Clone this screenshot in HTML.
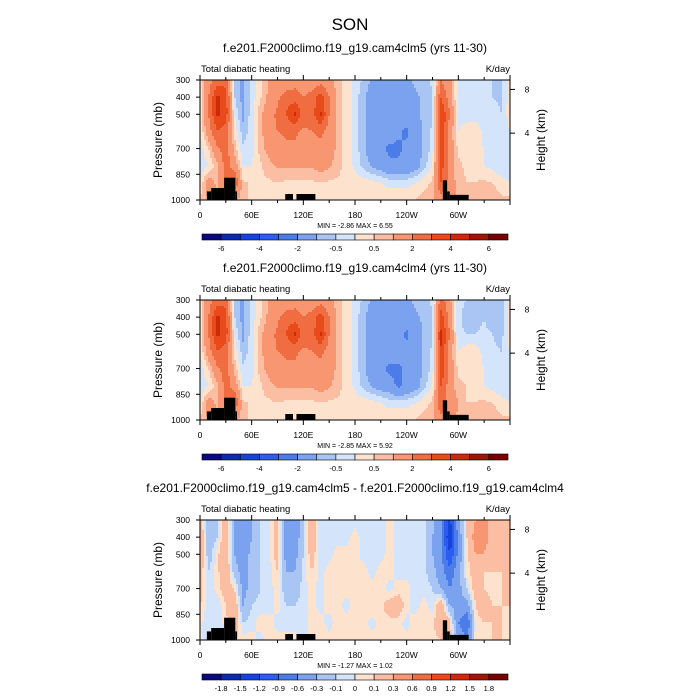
<!DOCTYPE html>
<html><head><meta charset="utf-8"><style>
body{margin:0;background:#fff;}
svg{display:block;font-family:"Liberation Sans",sans-serif;}
</style></head><body>
<svg id="fig" width="700" height="700" viewBox="0 0 700 700">
<text x="350" y="30" text-anchor="middle" font-size="17">SON</text>
</svg>
<script>
// ---- data ----
const lons = [0,10,20,30,40,50,60,70,80,90,100,110,120,130,140,150,160,170,180,190,200,210,220,230,240,250,260,270,280,290,300,310,320,330,340,350,360];
const levs = [300,400,500,600,700,800,900,1000];
const clm5 = [
[0.3,1.5,2.5,2.5,-0.5,-1.2,-0.3,0.3,1,1.2,1.2,1.5,1.2,1.2,1.5,1.2,0.7,0.3,-0.2,-0.6,-1.1,-1.3,-1.3,-1.3,-1.1,-0.9,-0.7,-0.4,2,1.2,-0.2,-0.3,-0.4,-0.3,-0.5,-0.6,0.3],
[0.3,2,4.2,3.5,-0.5,-1.2,-0.3,0.4,1.2,1.8,2.5,2.5,2,2.5,3.5,2,0.8,0.3,-0.2,-0.9,-1.4,-1.4,-1.4,-1.4,-1.4,-1.1,-0.9,-0.5,3,1.5,-0.2,-0.5,-0.5,-0.3,-0.5,-0.6,0.3],
[0.3,2,4.2,3.5,0,-1.2,-0.2,0.8,1.6,2.2,3,4.2,2.5,2.5,4.2,2,0.8,0.3,-0.2,-0.9,-1.4,-1.4,-1.4,-1.6,-1.4,-1.1,-0.9,-0.5,4,2,-0.2,-0.3,-0.3,-0.3,-0.3,-0.5,0.3],
[0,1.5,3,2.5,0.4,-0.8,-0.2,0.8,1.6,2,2.2,2.2,1.8,2,2.2,1.6,0.8,0.3,-0.2,-0.9,-1.4,-1.4,-1.4,-1.8,-2.2,-1.4,-0.9,-0.4,4,1.5,0,0.3,0.4,-0.2,-0.3,-0.5,0],
[-0.3,0.5,1.8,2.5,0.8,-0.4,-0.2,0.7,1.3,1.6,1.8,1.8,1.6,1.6,1.8,1.5,0.8,0.3,-0.2,-0.9,-1.4,-1.8,-2.2,-2.2,-1.8,-1.4,-0.9,-0.3,4,1.5,0.4,0.3,0.2,0,-0.2,-0.3,-0.3],
[-0.4,0,0.8,2.5,1.5,0,0,0.4,0.8,1.1,1.1,1.1,1.1,1.1,1.3,1.1,0.7,0.3,-0.1,-0.7,-1.1,-1.4,-1.8,-1.8,-1.8,-1.4,-0.7,0,3.5,1.5,0.6,0.4,0.3,0,-0.2,-0.5,-0.4],
[0,1.5,0.8,2.5,3,0.6,0.4,0.4,0.4,0.5,0.4,0.4,0.4,0.4,0.5,0.4,0.4,0.3,0.3,0.3,0.2,0,-0.2,-0.2,-0.2,0,0.3,0.6,3,1.5,0.7,0.5,0.5,0.6,0.5,0.3,0],
[0.6,1,1.5,2,1.2,0.6,0.4,0.3,0.3,0.3,0.3,0.3,0.3,0.3,0.3,0.3,0.3,0.3,0.4,0.5,0.5,0.5,0.4,0.4,0.4,0.5,0.7,0.9,1.5,1.2,0.9,0.8,0.8,0.8,0.7,0.6,0.6]];
const clm4 = [
[0.3,1.5,2.5,2.5,-0.5,-1.2,-0.3,0.3,1,1.2,1.2,1.5,1.2,1.2,1.5,1.2,0.7,0.3,-0.2,-0.6,-1.1,-1.3,-1.3,-1.3,-1.1,-0.9,-0.7,-0.4,2.5,1.2,-0.4,-0.5,-0.6,-0.5,-0.8,-0.9,0.3],
[0.3,2,4.2,3.5,-0.5,-1.2,-0.3,0.4,1.2,1.8,2.5,2.5,2,2.5,3.5,2,0.8,0.3,-0.2,-0.9,-1.4,-1.4,-1.4,-1.4,-1.4,-1.1,-0.9,-0.5,3.5,1.5,-0.4,-0.7,-0.7,-0.5,-0.8,-0.9,0.3],
[0.3,2,4.2,3.5,0,-1.2,-0.2,0.8,1.6,2.2,3,4.2,2.5,2.5,4.2,2,0.8,0.3,-0.2,-0.9,-1.4,-1.4,-1.4,-1.6,-2.2,-1.4,-0.9,-0.5,4.2,2,-0.4,-0.5,-0.5,-0.4,-0.5,-0.7,0.3],
[0,1.5,3,2.5,0.4,-0.8,-0.2,0.8,1.6,2,2.2,2.2,1.8,2,2.2,1.6,0.8,0.3,-0.2,-0.9,-1.4,-1.4,-1.4,-1.6,-1.6,-1.4,-0.9,-0.4,4,1.5,0,0.3,0.3,-0.2,-0.4,-0.5,0],
[-0.3,0.5,1.8,2.5,0.8,-0.4,-0.2,0.7,1.3,1.6,1.8,1.8,1.6,1.6,1.8,1.5,0.8,0.3,-0.2,-0.9,-1.4,-1.8,-2.2,-2.2,-1.8,-1.4,-0.9,-0.3,4,1.5,0.4,0.3,0.2,0,-0.2,-0.3,-0.3],
[-0.4,0,0.8,2.5,1.5,0,0,0.4,0.8,1.1,1.1,1.1,1.1,1.1,1.3,1.1,0.7,0.3,-0.1,-0.7,-1.1,-1.4,-1.6,-2.2,-1.8,-1.4,-0.7,0,3,1.5,0.6,0.5,0.4,0,-0.2,-0.5,-0.4],
[0,1.5,0.8,2.5,3,0.6,0.4,0.4,0.4,0.5,0.4,0.4,0.4,0.4,0.5,0.4,0.4,0.3,0.3,0.3,0.2,0,-0.2,-0.2,-0.2,0,0.3,0.6,3,1.5,1,0.5,0.5,0.6,0.5,0.3,0],
[0.6,1,1.5,2,1.2,0.6,0.4,0.3,0.3,0.3,0.3,0.3,0.3,0.3,0.3,0.3,0.3,0.3,0.4,0.5,0.5,0.5,0.4,0.4,0.4,0.5,0.7,0.9,1.5,1.2,0.9,0.8,0.8,0.8,0.7,0.6,0.6]];
const diff = [
[0.2,-0.2,-0.1,0.3,-0.3,-0.5,-0.3,-0.1,-0.05,0.2,-0.4,-0.5,-0.1,0.3,-0.1,-0.05,-0.05,-0.05,-0.05,-0.05,-0.05,-0.05,0.05,-0.05,-0.05,-0.05,-0.05,-0.2,-0.6,-1.3,-0.4,0.1,0.3,0.4,0.2,0.1,0.2],
[0.3,-0.2,-0.1,0.3,-0.3,-0.6,-0.3,-0.1,-0.05,0.2,-0.5,-0.5,-0.1,0.3,-0.1,-0.05,-0.05,-0.05,0.05,-0.05,-0.05,-0.05,0.05,-0.05,-0.05,-0.05,-0.05,-0.3,-0.6,-1.5,-0.5,0.1,0.4,0.4,0.2,0.1,0.3],
[0.3,-0.2,0.05,0.3,-0.3,-0.5,-0.2,-0.1,-0.05,0.2,-0.4,-0.4,-0.1,0.2,-0.1,-0.05,0.05,0.05,0.05,-0.05,-0.05,-0.05,0.05,-0.05,-0.05,-0.05,-0.05,-0.3,-0.5,-1.2,-0.5,0.05,0.3,0.3,0.1,0.1,0.3],
[0.2,-0.1,0.05,0.3,-0.2,-0.4,-0.2,-0.1,-0.05,0.1,-0.3,-0.3,-0.05,0.1,-0.05,0.05,0.05,0.05,0.05,0.05,-0.05,0.05,0.05,-0.05,-0.05,-0.05,-0.05,-0.2,-0.5,-0.8,-0.4,0.05,0.2,0.1,0.1,0.1,0.2],
[0.2,-0.1,0.05,0.2,0.1,-0.4,-0.2,-0.1,-0.05,0.05,-0.2,-0.2,-0.05,0.05,-0.05,0.05,0.05,0.05,0.05,0.05,0.05,0.05,-0.05,0.05,0.05,-0.05,-0.05,-0.1,-0.3,-0.6,-0.4,-0.1,0.2,0.1,0.05,0.1,0.2],
[0.1,-0.05,-0.1,0.1,0.3,-0.3,-0.1,-0.05,-0.05,0.05,-0.1,-0.1,-0.05,0.05,-0.05,0.05,0.05,-0.05,0.05,0.1,0.1,0.05,0.2,0.2,0.05,-0.05,0.05,-0.05,0.3,-0.3,-0.4,-0.4,0.1,0.2,0.1,0.1,0.1],
[0.05,-0.1,-0.1,0.05,0.3,-0.1,-0.05,0.05,0.05,-0.05,-0.05,-0.05,-0.05,0.05,0.05,-0.05,0.05,0.05,0.05,0.05,-0.05,0.05,0.05,0.05,-0.05,0.05,0.05,0.05,0.3,0.2,-0.6,-0.9,0.05,0.1,0.1,0.1,0.05],
[0.05,-0.1,-0.1,-0.05,0.1,0.05,0.05,-0.05,0.05,0.05,0.05,0.05,-0.05,0.05,0.05,0.05,0.05,0.05,0.05,0.05,0.05,0.05,0.05,0.05,0.05,0.05,0.05,0.05,0.1,0.2,-0.3,-0.6,0.05,0.05,0.1,0.1,0.05]];
const levelsMain = [-6,-5,-4,-3,-2,-1,-0.5,0,0.5,1,2,3,4,5,6];
const levelsDiff = [-1.8,-1.5,-1.2,-0.9,-0.6,-0.3,-0.1,0,0.1,0.3,0.6,0.9,1.2,1.5,1.8];
const labelsMain = ["-6","","-4","","-2","","-0.5","","0.5","","2","","4","","6"];
const labelsDiff = ["-1.8","-1.5","-1.2","-0.9","-0.6","-0.3","-0.1","0","0.1","0.3","0.6","0.9","1.2","1.5","1.8"];
const terrainStart = [8,13,28,41,99,112,282,287,290];
const terrainEnd   = [13,28,41,43,108,134,287,290,312];
const terrainTop   = [950,930,870,950,965,965,885,950,970];
const pTicks = [300,400,500,700,850,1000];
const lonTicks = [0,60,120,180,240,300];
const lonLabels = ["0","60E","120E","180","120W","60W"];
const hTicks = [8,4];
const hTickP = [355,610];
const colors = ["#0a0a80","#0c2ab0","#1444d8","#2c5cf0","#4c7ce8","#7aa2ee","#a9c5f4","#d4e4fa","#fde2ce","#fbbea2","#f89672","#f06d42","#e84a1a","#cc2a0a","#a01504","#7a0000"];

const NS="http://www.w3.org/2000/svg";
const svg=document.getElementById('fig');
function mk(tag,attrs,parent){const e=document.createElementNS(NS,tag);for(const k in attrs)e.setAttribute(k,attrs[k]);(parent||svg).appendChild(e);return e;}
const X0=200,X1=510,PH=120;
function xOf(lon){return X0+lon/360*(X1-X0);}
function interp(field,lon,p){
  let i=Math.min(lons.length-2,Math.floor(lon/10));let fx=(lon-lons[i])/10;
  let j=0;while(j<levs.length-2&&p>levs[j+1])j++;
  let fy=(p-levs[j])/(levs[j+1]-levs[j]);fy=Math.max(0,Math.min(1,fy));
  const a=field[j][i],b=field[j][i+1],c=field[j+1][i],d=field[j+1][i+1];
  return (a*(1-fx)+b*fx)*(1-fy)+(c*(1-fx)+d*fx)*fy;
}
function colIdx(v,lv){let k=0;while(k<lv.length&&v>=lv[k])k++;return k;}

function panel(top,title,field,lv,labels,minmax,idx){
  const yOf=p=>top+(p-300)/700*PH;
  const g=mk('g',{});
  
  
  const t=mk('text',{x:355,y:top-28,'text-anchor':'middle','font-size':'12'},g);t.textContent=title;
  
  const l=mk('text',{x:201,y:top-8,'font-size':'9.5'},g);l.textContent='Total diabatic heating';
  
  const u=mk('text',{x:510,y:top-8,'text-anchor':'end','font-size':'9.5'},g);u.textContent='K/day';
  
  const cg=mk('g',{'shape-rendering':'crispEdges'},g);
  
  const nx=155,ny=60,dx=(X1-X0)/nx,dy=PH/ny;
  for(let r=0;r<ny;r++){
    const p=300+(r+0.5)/ny*700;
    let start=0,cur=-1;
    for(let c=0;c<=nx;c++){
      const k=c<nx?colIdx(interp(field,(c+0.5)/nx*360,p),lv):-2;
      if(k!==cur){
        if(cur>=0){const rc=mk('rect',{x:X0+start*dx,y:top+r*dy,width:(c-start)*dx+0.3,height:dy+0.3,fill:colors[cur]},cg);
          }
        start=c;cur=k;
      }
    }
  }
  for(let i=0;i<terrainStart.length;i++){
    const rc=mk('rect',{x:xOf(terrainStart[i]),y:yOf(terrainTop[i]),width:xOf(terrainEnd[i])-xOf(terrainStart[i]),height:top+PH-yOf(terrainTop[i]),fill:'#000'},g);
    
  }
  const fr=mk('rect',{x:X0,y:top,width:X1-X0,height:PH,fill:'none',stroke:'#000','stroke-width':'1'},g);
  
  for(let lon=0;lon<=360;lon+=30){const x=xOf(lon);const len=lon%60===0?5:3;
    mk('line',{x1:x,x2:x,y1:top,y2:top-len,stroke:'#000'},g);mk('line',{x1:x,x2:x,y1:top+PH,y2:top+PH+len,stroke:'#000'},g);}
  lonTicks.forEach((lon,i)=>{const tx=mk('text',{x:xOf(lon),y:top+PH+18,'text-anchor':'middle','font-size':'8.5'},g);tx.textContent=lonLabels[i];
    });
  pTicks.forEach(p=>{const y=yOf(p);mk('line',{x1:X0,x2:X0-4,y1:y,y2:y,stroke:'#000'},g);
    const tx=mk('text',{x:X0-10,y:y+3,'text-anchor':'end','font-size':'8.5'},g);tx.textContent=p;
    });
  hTicks.forEach((h,i)=>{const y=yOf(hTickP[i]);mk('line',{x1:X1,x2:X1+5,y1:y,y2:y,stroke:'#000'},g);
    const tx=mk('text',{x:X1+17,y:y+3,'text-anchor':'middle','font-size':'8.5'},g);tx.textContent=h;
    });
  const yl=mk('text',{x:0,y:0,'text-anchor':'middle','font-size':'12',transform:`translate(162,${top+PH/2}) rotate(-90)`},g);yl.textContent='Pressure (mb)';
  
  const hl=mk('text',{x:0,y:0,'text-anchor':'middle','font-size':'12',transform:`translate(545,${top+PH/2}) rotate(-90)`},g);hl.textContent='Height (km)';
  
  const mm=mk('text',{x:355,y:top+PH+28,'text-anchor':'middle','font-size':'7','xml:space':'preserve'},g);mm.textContent=minmax;
  
  // colorbar
  const cy=top+PH+34,cw=(508-202)/16;
  const cb=mk('g',{},g);
  for(let i=0;i<16;i++){const rc=mk('rect',{x:202+i*cw,y:cy,width:cw,height:6,fill:colors[i],stroke:'#000','stroke-width':'0.6'},cb);
    }
  labels.forEach((s,i)=>{if(!s)return;const tx=mk('text',{x:202+(i+1)*cw,y:cy+17,'text-anchor':'middle','font-size':'7.5'},cb);tx.textContent=s;
    });
}
panel(80,'f.e201.F2000climo.f19_g19.cam4clm5 (yrs 11-30)',clm5,levelsMain,labelsMain,'MIN =  -2.86  MAX =   6.55',1);
panel(300,'f.e201.F2000climo.f19_g19.cam4clm4 (yrs 11-30)',clm4,levelsMain,labelsMain,'MIN =  -2.85  MAX =   5.92',2);
panel(520,'f.e201.F2000climo.f19_g19.cam4clm5 - f.e201.F2000climo.f19_g19.cam4clm4',diff,levelsDiff,labelsDiff,'MIN =  -1.27  MAX =   1.02',3);
</script>
</body></html>
